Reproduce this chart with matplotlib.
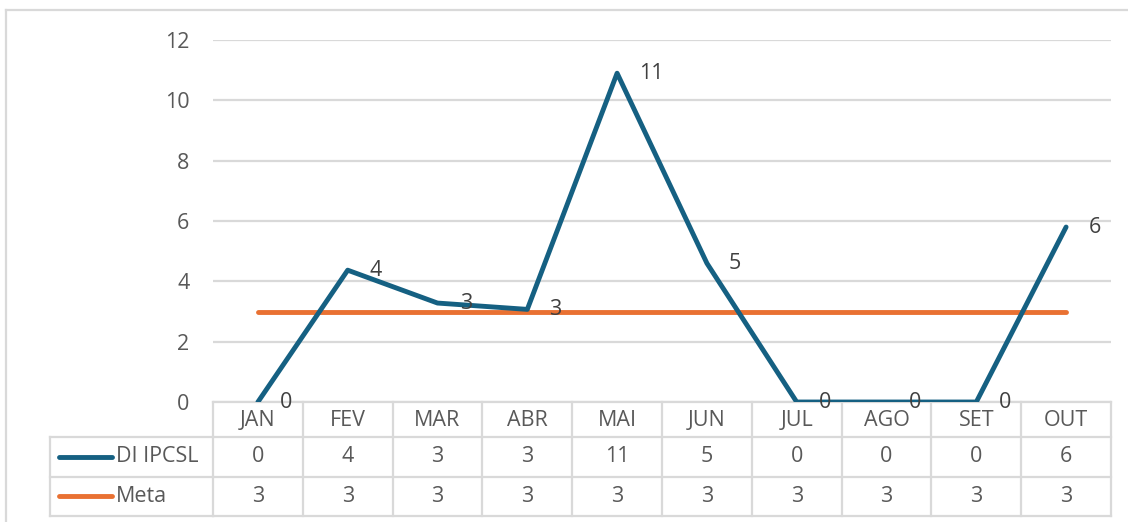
import matplotlib.pyplot as plt
import matplotlib.transforms as mtransforms

meses = ["JAN", "FEV", "MAR", "ABR", "MAI", "JUN", "JUL", "AGO", "SET", "OUT"]
di_ipcsl = [0, 4.37, 3.28, 3.07, 10.9, 4.6, 0, 0, 0, 5.8]
meta = [3, 3, 3, 3, 3, 3, 3, 3, 3, 3]
series_nomes = ["DI IPCSL", "Meta"]
cores = ["#156082", "#E97132"]

plt.rcParams["font.family"] = ["Open Sans", "DejaVu Sans"]
cinza_txt = "#595959"
cinza_linha = "#d9d9d9"
fs = 15.5

W, H = 1128, 522
fig = plt.figure(figsize=(W / 100, H / 100), dpi=100)

# eixo principal (em pixels da imagem)
x0, x1, ytop, ybot = 213, 1111, 40, 402
ax = fig.add_axes([x0 / W, (H - ybot) / H, (x1 - x0) / W, (ybot - ytop) / H])

x = list(range(len(meses)))
ax.plot(x, meta, color=cores[1], lw=3.5, solid_capstyle="round", zorder=2)
ax.plot(x, di_ipcsl, color=cores[0], lw=3.5, solid_capstyle="round", zorder=3)

# rótulos de dados à direita dos pontos
for xi, v in zip(x, di_ipcsl):
    ax.annotate(str(round(v)), (xi, v), xytext=(16, 0), textcoords="offset points",
                ha="left", va="center", fontsize=fs, color="#404040", zorder=4,
                annotation_clip=False)

ax.set_xlim(-0.5, len(meses) - 0.5)
ax.set_ylim(0, 12)
ax.set_yticks(range(0, 13, 2))
ax.yaxis.grid(True, color=cinza_linha, lw=1.6)
ax.set_axisbelow(True)
ax.set_xticks([])
ax.tick_params(axis="y", length=0, pad=17, labelsize=fs, labelcolor=cinza_txt)
for s in ax.spines.values():
    s.set_visible(False)

# tabela de dados embaixo
ph = ybot - ytop
def fy(py):
    return (ybot - py) / ph

trans = mtransforms.blended_transform_factory(ax.transData, ax.transAxes)
linhas_y = [402, 437, 477, 516]
kw = dict(color=cinza_linha, lw=1.6, clip_on=False, transform=trans)
for py in linhas_y:
    ax.plot([-0.5, len(meses) - 0.5], [fy(py)] * 2, **kw)
for i in range(len(meses) + 1):
    ax.plot([i - 0.5, i - 0.5], [fy(402), fy(516)], **kw)

# coluna da legenda (em coordenadas de figura)
def fx(px):
    return px / W
def gy(py):
    return (H - py) / H
for py in linhas_y[1:]:
    fig.add_artist(plt.Line2D([fx(50), fx(213)], [gy(py)] * 2, color=cinza_linha, lw=1.6))
fig.add_artist(plt.Line2D([fx(50), fx(50)], [gy(437), gy(516)], color=cinza_linha, lw=1.6))

for i, m in enumerate(meses):
    ax.text(i, fy(420), m, ha="center", va="center", fontsize=fs, color=cinza_txt,
            transform=trans, clip_on=False)
    ax.text(i, fy(457), str(round(di_ipcsl[i])), ha="center", va="center", fontsize=fs,
            color=cinza_txt, transform=trans, clip_on=False)
    ax.text(i, fy(496), str(round(meta[i])), ha="center", va="center", fontsize=fs,
            color=cinza_txt, transform=trans, clip_on=False)

for nome, cor, py in zip(series_nomes, cores, [457, 496]):
    fig.add_artist(plt.Line2D([fx(59), fx(112)], [gy(py)] * 2, color=cor, lw=3.5,
                              solid_capstyle="round"))
    fig.text(fx(116), gy(py), nome, ha="left", va="center", fontsize=fs, color=cinza_txt)

# moldura do gráfico
fig.add_artist(plt.Line2D([fx(6), fx(6)], [gy(10), 0], color=cinza_linha, lw=1.6))
fig.add_artist(plt.Line2D([fx(6), 1], [gy(10), gy(10)], color=cinza_linha, lw=1.6))

fig.savefig("out.png", dpi=100)
